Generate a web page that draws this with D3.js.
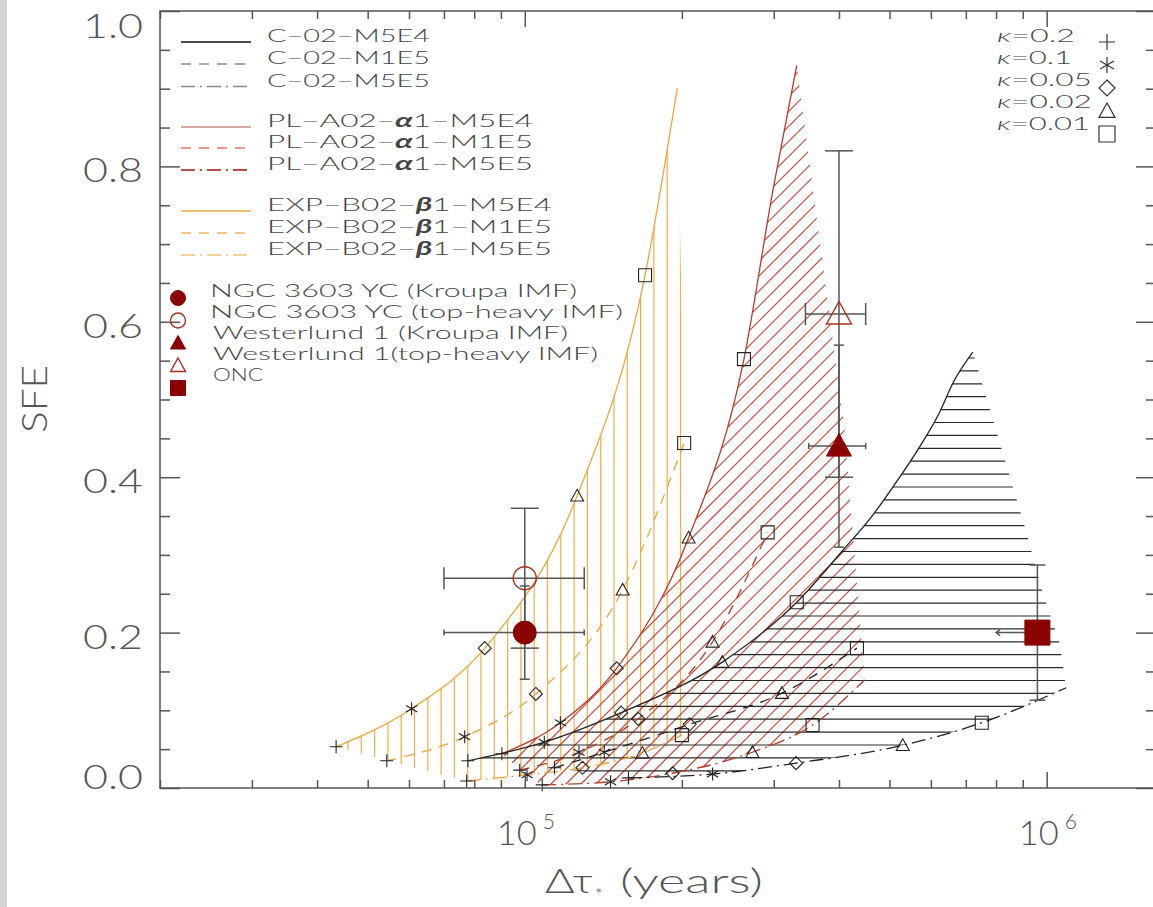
<!DOCTYPE html>
<html>
<head>
<meta charset="utf-8">
<script src="https://cdn.jsdelivr.net/npm/d3@7"></script>
<style>
  body { margin: 0; background: #fff; }
  svg { display: block; font-family: Lato, "DejaVu Sans", sans-serif; font-weight: 300; }
</style>
</head>
<body>
<svg id="chart" width="1153" height="907"></svg>
<script>
(function() {

  // model tracks: [delta tau (yr), SFE]; first five points are kappa = 0.2, 0.1, 0.05, 0.02, 0.01
  var expM5E4 = [[4.35e4,0.053],[6.07e4,0.102],[8.38e4,0.180],[1.26e5,0.376],[1.70e5,0.660],[1.96e5,0.901]];
  var expM1E5 = [[5.44e4,0.035],[7.67e4,0.066],[1.05e5,0.121],[1.54e5,0.255],[2.02e5,0.444]];
  var expM5E5 = [[7.74e4,0.009],[1.01e5,0.017],[1.29e5,0.026],[1.68e5,0.045],[2.00e5,0.068]];
  var expEdge = [[1.96e5,0.901],[2.02e5,0.444],[2.00e5,0.068]];

  var plM5E4 = [[9.04e4,0.044],[1.17e5,0.084],[1.50e5,0.154],[2.06e5,0.322],[2.63e5,0.552],[2.99e5,0.770],[3.32e5,0.930]];
  var plM1E5 = [[9.78e4,0.023],[1.27e5,0.046],[1.65e5,0.089],[2.29e5,0.188],[2.92e5,0.329]];
  var plM5E5 = [[1.08e5,0.004],[1.46e5,0.008],[1.92e5,0.019],[2.73e5,0.046],[3.56e5,0.081],[4.48e5,0.139]];
  var plEdge = [[3.32e5,0.930],[4.10e5,0.461],[4.48e5,0.139]];

  var cM5E4 = [[7.78e4,0.035],[1.09e5,0.059],[1.53e5,0.097],[2.39e5,0.162],[3.32e5,0.239],[4.07e5,0.306],[4.64e5,0.351],[5.07e5,0.387],[5.71e5,0.439],[6.24e5,0.484],[6.61e5,0.521],[7.22e5,0.561]];
  var cM1E5 = [[1.14e5,0.026],[1.42e5,0.046],[2.07e5,0.082],[3.11e5,0.122],[4.33e5,0.180]];
  var cM5E5 = [[1.58e5,0.013],[2.29e5,0.018],[3.31e5,0.032],[5.30e5,0.055],[7.51e5,0.084],[1.09e6,0.129]];
  var cEdge = [[7.22e5,0.561],[8.20e5,0.436],[9.08e5,0.336],[9.82e5,0.252],[1.059e6,0.187],[1.09e6,0.129]];

  var kappaLabels = ["0.2", "0.1", "0.05", "0.02", "0.01"];
  var kappaSymbols = ["plus", "star", "diamond", "triangle", "square"];

  var modelNames = ["C−02−M5E4", "C−02−M1E5", "C−02−M5E5",
                    "PL−A02−α1−M5E4", "PL−A02−α1−M1E5", "PL−A02−α1−M5E5",
                    "EXP−B02−β1−M5E4", "EXP−B02−β1−M1E5", "EXP−B02−β1−M5E5"];

  // observed clusters: tau, sfe, tau range, sfe range
  var obsNames = ["NGC 3603 YC (Kroupa IMF)", "NGC 3603 YC (top-heavy IMF)", "Westerlund 1 (Kroupa IMF)", "Westerlund 1(top-heavy IMF)", "ONC"];
  var obsTau    = [1.0e5, 1.0e5, 4.0e5, 4.0e5, 9.6e5];
  var obsSfe    = [0.20, 0.27, 0.44, 0.61, 0.20];
  var obsTauLo  = [7.0e4, 7.0e4, 3.5e5, 3.45e5, null];
  var obsTauHi  = [1.3e5, 1.3e5, 4.5e5, 4.5e5, null];
  var obsSfeLo  = [0.14, 0.18, 0.31, 0.40, 0.113];
  var obsSfeHi  = [0.26, 0.36, 0.57, 0.82, 0.287];
  var obsSymbol = ["circle", "circle", "triangle", "triangle", "square"];
  var obsFilled = [true, false, true, false, true];
  var oncLimit = 8.0e5;

  var yTicks = [0, 0.2, 0.4, 0.6, 0.8, 1.0];
  var xMajor = [1e5, 1e6];
  var xMajorLabels = ["5", "6"];

  var svg = d3.select("#chart");
  var defs = svg.append("defs");

  var x = d3.scaleLog().domain([2e4, 1.62e6]).range([160, 1156]);
  var y = d3.scaleLinear().domain([0, 1]).range([788, 11]);

  svg.append("rect").attr("width", 1153).attr("height", 907).attr("fill", "#fff");
  svg.append("rect").attr("width", 7).attr("height", 907).attr("fill", "#d3d3d3");

  var line = d3.line()
      .x(function(d) { return x(d[0]); })
      .y(function(d) { return y(d[1]); })
      .curve(d3.curveMonotoneX);

  function pt(d) { return x(d[0]).toFixed(2) + "," + y(d[1]).toFixed(2); }

  var families = [
    {id: "exp", curves: [expM5E4, expM1E5, expM5E5], edge: expEdge, stroke: "#eda53b", hatch: "#efae4a", angle: 90, step: 13.3, offset: 348},
    {id: "pl", curves: [plM5E4, plM1E5, plM5E5], edge: plEdge, stroke: "#b63c2c", hatch: "#bb4431", angle: 45, step: 15, offset: 0},
    {id: "c", curves: [cM5E4, cM1E5, cM5E5], edge: cEdge, stroke: "#222", hatch: "#2a2a2a", angle: 0, step: 12.9, offset: 358}
  ];
  var dashes = [null, "10,8", "14,5,2,5"];

  // hatched regions between the M5E4 and M5E5 tracks
  families.forEach(function(f) {
    var top = f.curves[0], bot = f.curves[2];
    var d = line(top) + f.edge.map(function(p) { return "L" + pt(p); }).join("") +
            line(bot.slice().reverse()).replace(/^M/, "L") +
            "L" + pt(f.curves[1][0]) + "Z";
    defs.append("clipPath").attr("id", "clip-" + f.id).append("path").attr("d", d);

    var all = top.concat(bot, f.edge);
    var xs = all.map(function(p) { return x(p[0]); }), ys = all.map(function(p) { return y(p[1]); });
    var x0 = d3.min(xs) - 2, x1 = d3.max(xs) + 2, y0 = d3.min(ys) - 2, y1 = d3.max(ys) + 2;
    var segs = [], v;
    if (f.angle === 90) {
      for (v = f.offset - Math.ceil((f.offset - x0) / f.step) * f.step; v <= x1; v += f.step) segs.push([v, y0, v, y1]);
    } else if (f.angle === 0) {
      for (v = f.offset - Math.ceil((f.offset - y0) / f.step) * f.step; v <= y1; v += f.step) segs.push([x0, v, x1, v]);
    } else {
      for (v = Math.floor((x0 + y0) / f.step) * f.step; v <= x1 + y1; v += f.step) segs.push([v - y1, y1, v - y0, y0]);
    }
    svg.append("g").attr("clip-path", "url(#clip-" + f.id + ")")
      .selectAll("line").data(segs).enter().append("line")
        .attr("x1", function(s) { return s[0]; }).attr("y1", function(s) { return s[1]; })
        .attr("x2", function(s) { return s[2]; }).attr("y2", function(s) { return s[3]; })
        .attr("stroke", f.hatch).attr("stroke-width", 1.2);
  });

  // track lines
  families.forEach(function(f) {
    f.curves.forEach(function(c, i) {
      svg.append("path").attr("d", line(c))
        .attr("fill", "none").attr("stroke", f.stroke).attr("stroke-width", 1.3)
        .attr("stroke-dasharray", dashes[i]);
    });
  });

  function symbolPath(type, size) {
    var s = size / 2;
    switch (type) {
      case "plus": return "M" + (-s) + ",0H" + s + "M0," + (-s) + "V" + s;
      case "star":
        var a = s * Math.cos(Math.PI / 6), b = s * 0.5;
        return "M0," + (-s) + "V" + s + "M" + (-a) + "," + (-b) + "L" + a + "," + b + "M" + (-a) + "," + b + "L" + a + "," + (-b);
      case "diamond": return "M0," + (-s) + "L" + s + ",0L0," + s + "L" + (-s) + ",0Z";
      case "triangle": return "M0," + (-s) + "L" + s + "," + (s * 0.8) + "L" + (-s) + "," + (s * 0.8) + "Z";
      case "square": return "M" + (-s) + "," + (-s) + "H" + s + "V" + s + "H" + (-s) + "Z";
    }
  }

  // kappa markers along every track
  families.forEach(function(f) {
    f.curves.forEach(function(c) {
      svg.append("g").selectAll("path").data(c.slice(0, 5)).enter().append("path")
        .attr("transform", function(d) { return "translate(" + pt(d) + ")"; })
        .attr("d", function(d, i) { return symbolPath(kappaSymbols[i], 13); })
        .attr("fill", "none").attr("stroke", "#222").attr("stroke-width", 1.1);
    });
  });

  // observed clusters with error bars
  var eb = svg.append("g").attr("stroke", "#555").attr("stroke-width", 1.5);
  obsTau.forEach(function(t, i) {
    var cx = x(t), cy = y(obsSfe[i]);
    var vcap = obsFilled[i] ? 5 : 14, hcap = obsFilled[i] ? 3 : 11;
    if (i === 4) vcap = 8;
    eb.append("line").attr("x1", cx).attr("x2", cx).attr("y1", y(obsSfeLo[i])).attr("y2", y(obsSfeHi[i]));
    [obsSfeLo[i], obsSfeHi[i]].forEach(function(v) {
      eb.append("line").attr("x1", cx - vcap).attr("x2", cx + vcap).attr("y1", y(v)).attr("y2", y(v));
    });
    if (obsTauLo[i] !== null) {
      eb.append("line").attr("x1", x(obsTauLo[i])).attr("x2", x(obsTauHi[i])).attr("y1", cy).attr("y2", cy);
      [obsTauLo[i], obsTauHi[i]].forEach(function(v) {
        eb.append("line").attr("x1", x(v)).attr("x2", x(v)).attr("y1", cy - hcap).attr("y2", cy + hcap);
      });
    }
  });
  // ONC age limit arrow
  var ax = x(oncLimit), ay = y(obsSfe[4]);
  eb.append("line").attr("x1", x(obsTau[4])).attr("x2", ax).attr("y1", ay).attr("y2", ay);
  eb.append("path").attr("d", "M" + (ax + 4) + "," + (ay - 3) + "L" + ax + "," + ay + "L" + (ax + 4) + "," + (ay + 3)).attr("fill", "none");

  function obsMarker(g, i, cx, cy, size) {
    var m;
    if (obsSymbol[i] === "circle") m = g.append("circle").attr("cx", cx).attr("cy", cy).attr("r", size / 2);
    else m = g.append("path").attr("transform", "translate(" + cx + "," + cy + ")").attr("d", symbolPath(obsSymbol[i], size));
    if (obsFilled[i]) m.attr("fill", "#8b0000").attr("stroke", "#8b0000");
    else m.attr("fill", "none").attr("stroke", "#a8301f").attr("stroke-width", 1.4);
    return m;
  }
  var obsG = svg.append("g");
  obsTau.forEach(function(t, i) {
    obsMarker(obsG, i, x(t), y(obsSfe[i]), i < 2 ? 23 : 25);
  });

  // frame and ticks
  var frame = svg.append("g").attr("stroke", "#555").attr("stroke-width", 1.5);
  frame.append("rect").attr("x", 160).attr("y", 11).attr("width", 996).attr("height", 777).attr("fill", "none");

  var xMinor = [];
  [1e4, 1e5, 1e6].forEach(function(dec) {
    for (var k = 2; k <= 9; k++) if (dec * k >= 2e4 && dec * k <= 1.62e6) xMinor.push(dec * k);
  });
  var yMinor = d3.range(0, 1.0001, 0.05).filter(function(v) { return Math.abs(v * 5 - Math.round(v * 5)) > 1e-6; });

  function axisG(axis, tx, ty) {
    var g = svg.append("g").attr("transform", "translate(" + tx + "," + ty + ")").call(axis);
    g.select(".domain").remove();
    g.selectAll("text").remove();
    g.selectAll("line").attr("stroke", "#555").attr("stroke-width", 1.5);
  }
  axisG(d3.axisBottom(x).tickValues(xMinor).tickSize(-8), 0, 788);
  axisG(d3.axisBottom(x).tickValues(xMajor).tickSize(-16), 0, 788);
  axisG(d3.axisTop(x).tickValues(xMinor).tickSize(-8), 0, 11);
  axisG(d3.axisTop(x).tickValues(xMajor).tickSize(-16), 0, 11);
  axisG(d3.axisLeft(y).tickValues(yMinor).tickSize(-10), 160, 0);
  axisG(d3.axisLeft(y).tickValues(yTicks).tickSize(-20), 160, 0);
  axisG(d3.axisRight(y).tickValues(yMinor).tickSize(-10), 1156, 0);
  axisG(d3.axisRight(y).tickValues(yTicks).tickSize(-20), 1156, 0);

  // tick labels
  var labels = svg.append("g").attr("fill", "#555");
  yTicks.forEach(function(v) {
    labels.append("text")
      .attr("x", 143).attr("y", Math.max(25, Math.min(776, y(v) + 3)))
      .attr("text-anchor", "end").attr("dominant-baseline", "central")
      .attr("font-size", 33).attr("textLength", 60).attr("lengthAdjust", "spacingAndGlyphs")
      .text(v.toFixed(1));
  });
  xMajor.forEach(function(v, i) {
    var cx = x(v);
    labels.append("text").attr("x", cx - 28).attr("y", 832).attr("dominant-baseline", "central")
      .attr("font-size", 33).attr("textLength", 40).attr("lengthAdjust", "spacingAndGlyphs").text("10");
    labels.append("text").attr("x", cx + 18).attr("y", 820).attr("dominant-baseline", "central")
      .attr("font-size", 21).text(xMajorLabels[i]);
  });

  // axis titles
  labels.append("text").attr("x", 545).attr("y", 879).attr("dominant-baseline", "central")
    .attr("font-size", 34).attr("textLength", 48).attr("lengthAdjust", "spacingAndGlyphs").text("Δτ");
  labels.append("text").attr("x", 595).attr("y", 894).attr("dominant-baseline", "central")
    .attr("font-size", 18).text("*");
  labels.append("text").attr("x", 620).attr("y", 879).attr("dominant-baseline", "central")
    .attr("font-size", 34).attr("textLength", 143).attr("lengthAdjust", "spacingAndGlyphs").text("(years)");
  labels.append("text").attr("transform", "translate(33,399) rotate(-90)")
    .attr("text-anchor", "middle").attr("dominant-baseline", "central")
    .attr("font-size", 36).attr("textLength", 68).attr("lengthAdjust", "spacingAndGlyphs").text("SFE");

  // model legend
  var legendColors = ["#111", "#8a8a8a", "#8a8a8a",
                      "#c98f86", "#d8756b", "#9e1512",
                      "#ecac45", "#f0b65c", "#f2c37a"];
  var legendRowY = [35, 57, 79.5, 120, 141, 163, 204, 226, 248];
  var legendWidths = [163, 163, 163, 266, 266, 266, 285, 285, 285];
  var leg = svg.append("g");

  function richText(sel, str) {
    str.split(/([αβκ])/).forEach(function(part) {
      if (!part) return;
      var ts = sel.append("tspan").text(part);
      if (/[αβ]/.test(part)) ts.attr("font-style", "italic").attr("font-weight", 700);
      if (part === "κ") ts.attr("font-style", "italic");
    });
  }

  modelNames.forEach(function(name, i) {
    var ry = legendRowY[i];
    leg.append("line").attr("x1", 181).attr("x2", 251).attr("y1", ry + 7).attr("y2", ry + 7)
      .attr("stroke", legendColors[i]).attr("stroke-width", 1.6)
      .attr("stroke-dasharray", dashes[i % 3]);
    var t = leg.append("text").attr("x", 267).attr("y", ry).attr("dominant-baseline", "central")
      .attr("font-size", 18).attr("fill", "#444")
      .attr("textLength", legendWidths[i]).attr("lengthAdjust", "spacingAndGlyphs");
    richText(t, name);
  });

  var obsWidths = [367, 413, 355, 385, 50];
  obsNames.forEach(function(name, i) {
    leg.append("text").attr("x", i < 2 ? 210 : 213).attr("y", 290 + 21 * i).attr("dominant-baseline", "central")
      .attr("font-size", 17.5).attr("fill", "#444")
      .attr("textLength", obsWidths[i]).attr("lengthAdjust", "spacingAndGlyphs").text(name);
    obsMarker(leg, i, 178, 298 + 22.5 * i, 15);
  });

  // kappa legend
  var kWidths = [78, 75, 95, 95, 93];
  kappaLabels.forEach(function(k, i) {
    var t = leg.append("text").attr("x", 997).attr("y", 35 + 22 * i).attr("dominant-baseline", "central")
      .attr("font-size", 18).attr("fill", "#444")
      .attr("textLength", kWidths[i]).attr("lengthAdjust", "spacingAndGlyphs");
    richText(t, "κ=" + k);
    leg.append("path").attr("transform", "translate(1107," + (42 + 23 * i) + ")")
      .attr("d", symbolPath(kappaSymbols[i], 16))
      .attr("fill", "none").attr("stroke", "#333").attr("stroke-width", 1.2);
  });

}());
</script>
</body>
</html>
